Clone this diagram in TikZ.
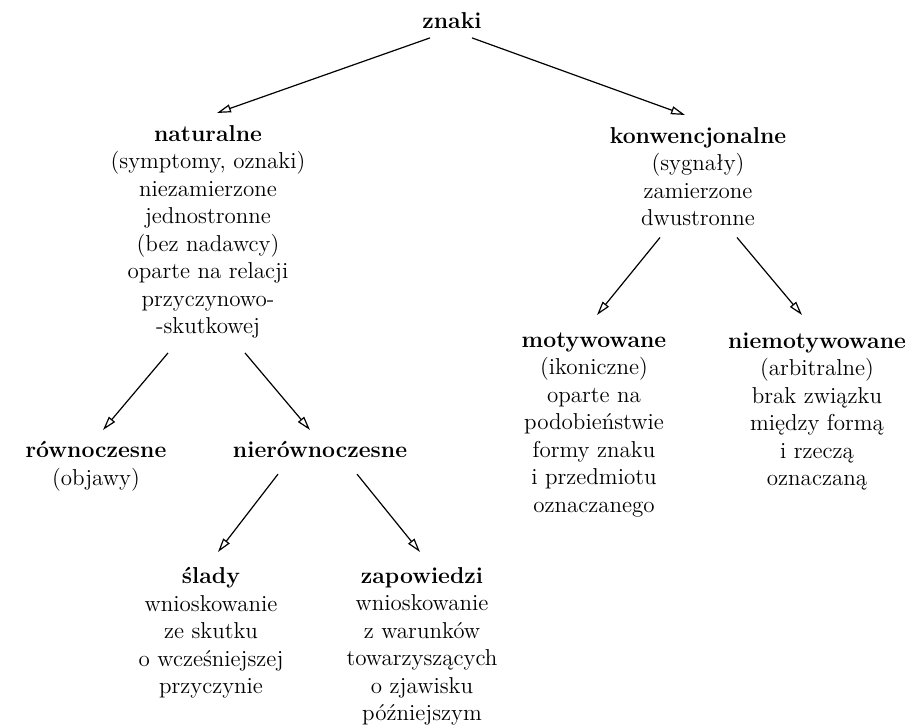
\documentclass[tikz,border=0pt]{standalone}
\usepackage{fontspec}
\usepackage{tikz}
\usetikzlibrary{arrows.meta,calc,positioning}

\tikzset{
    blok/.style={align=center, anchor=north, inner sep=0pt,
        font=\fontsize{11.5}{13.75}\selectfont},
    strz/.style={-{Triangle[open,length=7pt,width=4pt]}, line width=0.6pt},
}

\begin{document}
\begin{tikzpicture}[x=0.5pt,y=-0.5pt]
        \useasboundingbox (0,0) rectangle (922,727);

        % Root
        \node[blok] (znaki) at (452,12) {\textbf{znaki}};

        % First level
        \node[blok] (nat) at (208,125) {\textbf{naturalne}\\(symptomy, oznaki)\\niezamierzone\\jednostronne\\(bez nadawcy)\\oparte na relacji\\przyczynowo-\\-skutkowej};
        \node[blok] (konw) at (698,127) {\textbf{konwencjonalne}\\(sygnały)\\zamierzone\\dwustronne};

        % Second level
        \node[blok] (rown) at (96,441) {\textbf{równoczesne}\\(objawy)};
        \node[blok] (nier) at (320,441) {\textbf{nierównoczesne}};
        \node[blok] (motyw) at (594,332) {\textbf{motywowane}\\(ikoniczne)\\oparte na\\podobieństwie\\formy znaku\\i przedmiotu\\oznaczanego};
        \node[blok] (niemotyw) at (817,332) {\textbf{niemotywowane}\\(arbitralne)\\brak związku\\między formą\\i rzeczą\\oznaczaną};

        % Third level
        \node[blok] (slady) at (211,567) {\textbf{ślady}\\wnioskowanie\\ze skutku\\o wcześniejszej\\przyczynie};
        \node[blok] (zapow) at (422,567) {\textbf{zapowiedzi}\\wnioskowanie\\z warunków\\towarzyszących\\o zjawisku\\późniejszym};

        % Arrows
        \draw[strz] ($(znaki.south)+(-22,9)$) -- ($(nat.north)+(9,-12)$);
        \draw[strz] ($(znaki.south)+(20,9)$) -- ($(konw.north)+(-13,-12)$);
        \draw[strz] ($(nat.south)+(-40,14)$) -- ($(rown.north)+(7,-11)$);
        \draw[strz] ($(nat.south)+(37,14)$) -- ($(nier.north)+(-10,-11)$);
        \draw[strz] ($(nier.south)+(-42,16)$) -- ($(slady.north)+(7,-15)$);
        \draw[strz] ($(nier.south)+(37,16)$) -- ($(zapow.north)+(-2,-15)$);
        \draw[strz] ($(konw.south)+(-38,11)$) -- ($(motyw.north)+(3,-17)$);
        \draw[strz] ($(konw.south)+(39,11)$) -- ($(niemotyw.north)+(-15,-17)$);
    \end{tikzpicture}
\end{document}
